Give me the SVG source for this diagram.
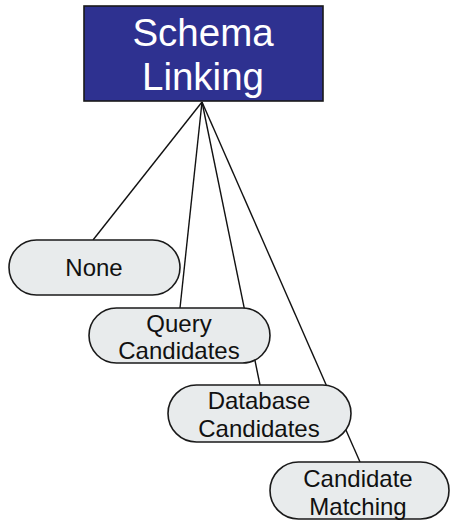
<svg xmlns="http://www.w3.org/2000/svg" width="450" height="521" viewBox="0 0 450 521">
  <style>
    .edge { stroke: #111; stroke-width: 1.4; fill: none; }
    .leaf { fill: #E8EBEC; stroke: #1a1a1a; stroke-width: 1.6; }
    .leaf-text { font-family: "Liberation Sans", Arial, sans-serif; font-size: 24px; fill: #111; text-anchor: middle; }
    .root { fill: #2E3190; stroke: #1a1a1a; stroke-width: 1.6; }
    .root-text { font-family: "Liberation Sans", Arial, sans-serif; font-size: 38.5px; fill: #fff; text-anchor: middle; }
  </style>
  <rect width="450" height="521" fill="#fff"/>
  <g id="connectors">
    <line class="edge" x1="202" y1="102" x2="93" y2="240"/>
    <line class="edge" x1="202" y1="102" x2="180" y2="308"/>
    <line class="edge" x1="202" y1="102" x2="260" y2="385"/>
    <line class="edge" x1="202" y1="102" x2="360" y2="462"/>
  </g>
  <g id="schema-linking">
    <rect class="root" x="84" y="6" width="239" height="95"/>
    <text class="root-text" x="203" y="46">Schema</text>
    <text class="root-text" x="203" y="90">Linking</text>
  </g>
  <g id="none">
    <rect class="leaf" x="9" y="240" width="171" height="55" rx="27.5"/>
    <text class="leaf-text" x="94" y="276">None</text>
  </g>
  <g id="query-candidates">
    <rect class="leaf" x="89" y="308" width="181" height="55" rx="27.5"/>
    <text class="leaf-text" x="179" y="332">Query</text>
    <text class="leaf-text" x="179" y="359">Candidates</text>
  </g>
  <g id="database-candidates">
    <rect class="leaf" x="168" y="385" width="183" height="57" rx="28.5"/>
    <text class="leaf-text" x="259" y="409">Database</text>
    <text class="leaf-text" x="259" y="437">Candidates</text>
  </g>
  <g id="candidate-matching">
    <rect class="leaf" x="270" y="462" width="179" height="57" rx="28.5"/>
    <text class="leaf-text" x="358" y="487">Candidate</text>
    <text class="leaf-text" x="358" y="515">Matching</text>
  </g>
</svg>
